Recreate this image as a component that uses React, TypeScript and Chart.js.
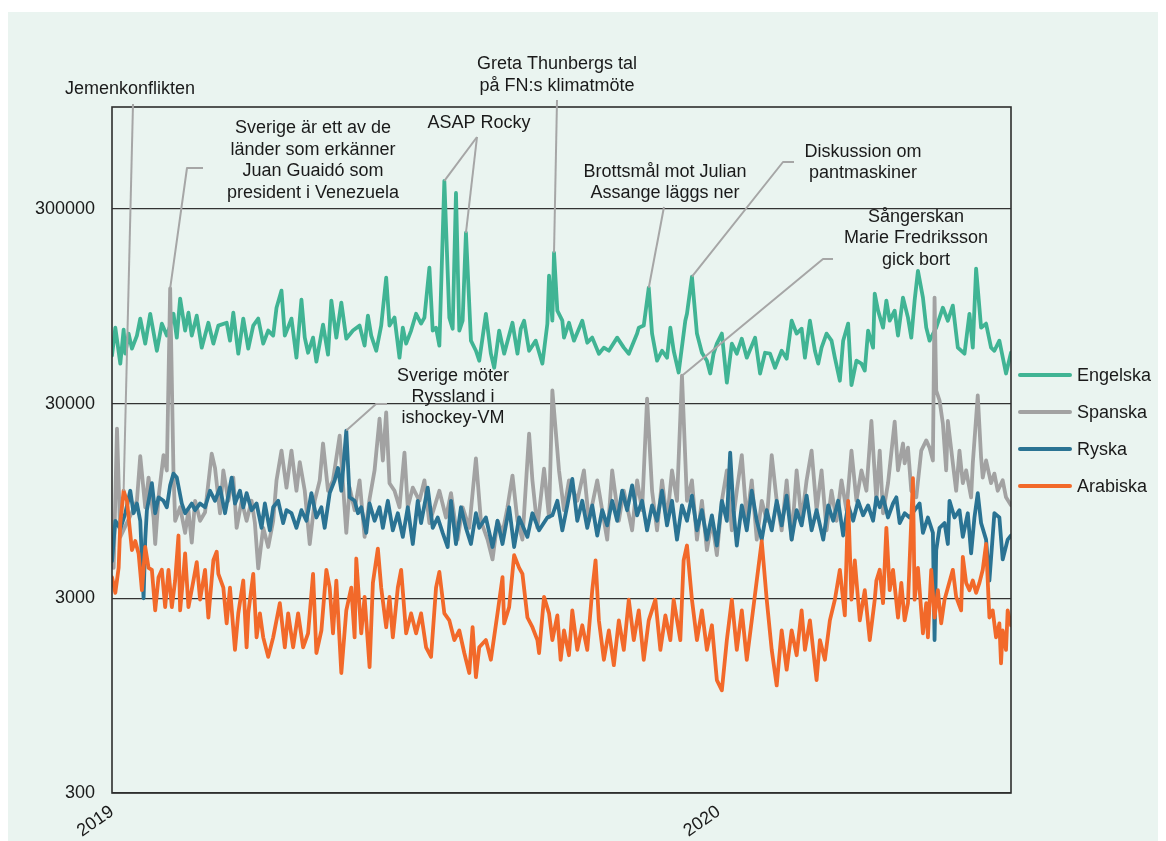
import React, { useEffect, useRef } from "react";
import { Chart, registerables } from "chart.js";

Chart.register(...registerables);

const FONT = "'Liberation Sans', Arial, Helvetica, sans-serif";
const TEXT = "#1a1a1a";

// x axis: days since 2019-01-01
const yearTicks = [0, 365];
const yearLabels = ["2019", "2020"];
const yTickValues = [300, 3000, 30000, 300000];
const seriesNames = ["Engelska", "Spanska", "Ryska", "Arabiska"];
const seriesColors = ["#40B494", "#A2A2A2", "#2A7393", "#F2692A"];

// [day, daily page views]
const engelska: [number, number][] = [
  [0, 52900], [2, 73600], [5, 48100], [7, 71900], [8, 54100], [10, 68600], [12, 57400], [15, 67000], [17, 81900], [20, 60900],
  [23, 86700], [27, 56000], [30, 77200], [33, 67000], [35, 75400], [37, 86700], [39, 65400], [41, 103800], [44, 71100], [46, 87800],
  [48, 67000], [51, 84800], [54, 58100], [58, 78000], [61, 60900], [64, 75400], [69, 78000], [71, 63100], [73, 87800], [76, 54100],
  [79, 81900], [82, 57400], [85, 75400], [88, 81900], [91, 60900], [94, 71100], [97, 67000], [99, 93200], [102, 114000], [104, 67000],
  [108, 81900], [111, 51600], [114, 102500], [116, 65400], [118, 54700], [121, 65400], [123, 49200], [127, 76300], [130, 53500], [132, 101400],
  [135, 65400], [138, 99000], [141, 64600], [145, 71100], [149, 75400], [152, 59500], [154, 84800], [156, 67000], [159, 56000], [162, 75400],
  [165, 132900], [167, 75400], [170, 82900], [173, 51600], [175, 73600], [177, 60900], [180, 71100], [183, 86700], [186, 77200], [188, 82900],
  [191, 149500], [193, 71100], [195, 73600], [197, 59500], [200, 417600], [203, 82900], [205, 72700], [207, 362000], [209, 71100], [211, 79900],
  [213, 226000], [216, 63100], [219, 56000], [221, 49800], [223, 65400], [225, 86700], [228, 54100], [230, 45800], [233, 71100], [236, 54100],
  [241, 78000], [244, 54100], [246, 72700], [248, 79900], [251, 56000], [255, 63100], [259, 48100], [262, 77200], [263, 136000], [265, 79900],
  [266, 178500], [268, 90000], [271, 79900], [272, 65400], [275, 78000], [278, 63100], [283, 79900], [286, 61600], [289, 65400], [293, 54100],
  [296, 58100], [299, 56000], [304, 65400], [308, 58100], [311, 54100], [316, 68600], [317, 73600], [320, 75400], [323, 118000], [325, 68600],
  [328, 49800], [331, 56000], [334, 51600], [336, 73600], [338, 56000], [341, 43300], [345, 79900], [346, 86700], [349, 134400], [352, 68600],
  [355, 54700], [358, 49800], [360, 42800], [362, 54100], [364, 60900], [367, 68600], [370, 38400], [373, 60900], [376, 54100], [379, 64600],
  [382, 51600], [387, 65400], [390, 42800], [393, 54700], [396, 54100], [399, 45800], [403, 56000], [406, 51000], [409, 79900], [412, 68600],
  [415, 72700], [417, 51600], [420, 79900], [423, 56000], [425, 48100], [427, 58100], [430, 68600], [433, 63100], [435, 51600], [438, 39300],
  [440, 63100], [443, 77200], [445, 37300], [448, 49800], [451, 48100], [453, 44300], [455, 71100], [458, 58100], [459, 110000], [461, 90000],
  [464, 73600], [466, 101400], [468, 79900], [471, 90000], [473, 67000], [476, 105000], [479, 82900], [481, 65400], [483, 101400], [485, 144000],
  [488, 105000], [490, 73600], [492, 63100], [496, 73600], [500, 93200], [503, 79900], [506, 95500], [509, 58100], [513, 54100], [516, 86700],
  [518, 58100], [520, 148000], [523, 73600], [526, 77200], [529, 58100], [531, 56000], [534, 63100], [538, 42800], [541, 54700],
];

const spanska: [number, number][] = [
  [1, 4300], [3, 22300], [5, 6200], [12, 8300], [15, 9500], [17, 16100], [20, 8800], [22, 12500], [25, 7800], [26, 5700],
  [28, 9900], [31, 16300], [33, 13600], [35, 117000], [37, 13300], [38, 7500], [41, 8800], [44, 6500], [46, 8500], [48, 5800],
  [50, 9500], [53, 7500], [56, 8300], [60, 16600], [62, 14000], [65, 8200], [67, 13600], [70, 9500], [73, 12500], [75, 6900],
  [78, 9500], [81, 7500], [84, 9500], [86, 7300], [88, 4270], [91, 6900], [94, 5500], [97, 7500], [99, 12100], [102, 17200],
  [105, 11100], [108, 17200], [111, 10700], [113, 15000], [116, 10700], [119, 5700], [122, 9500], [125, 12100], [127, 18700], [130, 10700],
  [133, 12100], [137, 20500], [141, 6500], [143, 11100], [146, 8500], [149, 12100], [152, 6200], [155, 9700], [158, 13600], [161, 25100],
  [163, 15300], [165, 27000], [167, 11700], [170, 10700], [173, 8800], [176, 16800], [178, 8800], [181, 11100], [185, 9500], [188, 12100],
  [191, 7300], [194, 8800], [197, 10700], [201, 7800], [204, 10400], [208, 6000], [211, 8800], [215, 6900], [219, 15700], [222, 7500],
  [226, 6000], [229, 4750], [232, 7500], [235, 6500], [238, 8800], [241, 12800], [244, 7500], [247, 6000], [251, 21000], [253, 12100],
  [256, 6900], [260, 13900], [263, 7800], [265, 35000], [269, 13600], [272, 8500], [275, 12100], [280, 9500], [284, 13600], [287, 7500],
  [292, 12100], [295, 8500], [298, 6000], [301, 13600], [305, 7500], [308, 10700], [313, 6700], [316, 12100], [319, 8500], [322, 31800],
  [325, 10700], [328, 6700], [331, 12100], [334, 7500], [337, 13600], [340, 9500], [343, 41700], [346, 9500], [349, 12100], [352, 6000],
  [355, 9500], [358, 5300], [361, 7500], [364, 5000], [367, 9500], [370, 13600], [373, 6700], [376, 10700], [379, 16300], [382, 7500],
  [385, 12100], [388, 6000], [391, 9500], [394, 7500], [397, 16300], [400, 9500], [403, 6700], [406, 12100], [409, 6000], [412, 13600],
  [415, 7500], [418, 12100], [421, 17200], [424, 8500], [427, 13600], [430, 6700], [433, 10700], [436, 7500], [439, 12100], [442, 8500],
  [445, 17200], [448, 9500], [451, 13600], [454, 10700], [457, 24400], [460, 9500], [462, 17200], [464, 8200], [467, 11700], [471, 24200],
  [473, 13600], [476, 18700], [477, 14800], [479, 17800], [481, 10700], [484, 9900], [487, 17200], [490, 19400], [492, 17800], [494, 15300],
  [495, 105000], [496, 35000], [498, 31100], [500, 23700], [502, 13600], [503, 24400], [506, 14800], [508, 10700], [510, 17200], [512, 11700],
  [514, 13600], [517, 9900], [518, 14800], [521, 33000], [523, 15900], [524, 12500], [526, 15300], [529, 11700], [531, 13100], [533, 10700],
  [536, 12100], [538, 9900], [541, 9000],
];

const ryska: [number, number][] = [
  [0, 4650], [2, 7500], [5, 6800], [8, 8200], [11, 10700], [13, 8200], [15, 9200], [17, 7500], [19, 3000], [20, 6000],
  [21, 8500], [24, 11700], [26, 8200], [28, 9900], [31, 9500], [33, 8800], [35, 11400], [37, 13100], [39, 12500], [42, 9200],
  [44, 8200], [48, 9200], [50, 8500], [53, 9200], [56, 8800], [59, 10700], [62, 9500], [65, 11100], [68, 8200], [72, 12500],
  [74, 9200], [77, 10700], [79, 8800], [81, 10400], [84, 8500], [87, 9200], [90, 6900], [92, 9200], [95, 6700], [97, 8800],
  [100, 9500], [103, 7300], [105, 8500], [108, 8200], [111, 6900], [114, 8500], [117, 7500], [120, 10400], [123, 7800], [126, 8800],
  [128, 6900], [131, 10400], [134, 12100], [136, 14000], [138, 10700], [141, 21800], [143, 9900], [146, 9500], [148, 8200], [150, 8800],
  [153, 6500], [155, 9200], [158, 7500], [161, 8800], [163, 6900], [166, 9500], [169, 6700], [172, 8200], [175, 6200], [178, 8800],
  [181, 5700], [184, 9500], [186, 7300], [190, 11100], [193, 6900], [196, 7800], [199, 6500], [202, 5500], [204, 9500], [207, 5700],
  [210, 8800], [213, 6900], [216, 5700], [219, 8200], [221, 6900], [225, 7800], [229, 5500], [232, 7500], [235, 5700], [239, 8800],
  [242, 5500], [245, 7800], [250, 6200], [253, 8200], [257, 6700], [262, 7800], [265, 8000], [268, 9500], [271, 6700], [274, 9000],
  [277, 12300], [280, 7500], [283, 9500], [286, 6900], [289, 9000], [292, 6300], [295, 8500], [298, 7100], [301, 9500], [304, 7500],
  [307, 10700], [310, 8500], [313, 11400], [316, 8000], [319, 9500], [322, 6700], [325, 9000], [328, 7500], [331, 10700], [334, 7100],
  [337, 9500], [340, 6000], [343, 9000], [346, 7500], [349, 10100], [352, 6700], [355, 8500], [358, 6000], [361, 8000], [364, 5600],
  [367, 9500], [370, 7500], [372, 16800], [374, 8500], [376, 5600], [379, 9000], [382, 6700], [385, 10700], [388, 7500], [391, 6000],
  [394, 8500], [397, 6700], [400, 9500], [403, 7100], [406, 10100], [409, 6000], [412, 8500], [415, 7100], [418, 10100], [421, 6700],
  [424, 8500], [428, 6000], [431, 9000], [434, 7500], [437, 9500], [440, 6300], [443, 9000], [446, 7500], [449, 9500], [452, 8000],
  [455, 9000], [458, 7500], [460, 9900], [462, 8800], [464, 9900], [467, 7800], [470, 9200], [472, 9900], [474, 7300], [477, 8200],
  [480, 7800], [483, 8500], [486, 9200], [488, 6500], [491, 7800], [494, 6500], [495, 1830], [496, 5300], [498, 6900], [501, 7300],
  [503, 5700], [504, 9500], [507, 7800], [510, 8500], [512, 6200], [515, 8200], [517, 5100], [519, 7800], [521, 10400], [523, 7300],
  [526, 6000], [528, 3700], [531, 8200], [534, 7800], [536, 4750], [539, 6000], [541, 6300],
];

const arabiska: [number, number][] = [
  [0, 3850], [2, 3200], [4, 4300], [5, 7300], [7, 10700], [9, 9500], [10, 7800], [12, 5300], [14, 5900], [16, 5100],
  [18, 3300], [20, 5500], [22, 4300], [24, 4200], [26, 2600], [28, 3850], [30, 4200], [32, 2700], [34, 4200], [36, 2700],
  [38, 3700], [40, 6300], [41, 2600], [43, 4000], [44, 5100], [46, 2700], [49, 3700], [51, 4600], [53, 2950], [56, 4200],
  [58, 2390], [61, 4700], [63, 5200], [64, 4000], [67, 3400], [69, 2230], [71, 3400], [74, 1630], [76, 2510], [79, 3700],
  [81, 1680], [82, 2510], [85, 4000], [87, 1890], [89, 2510], [91, 1890], [94, 1500], [97, 1890], [101, 2830], [104, 1680],
  [106, 2510], [109, 1680], [112, 2510], [115, 1680], [118, 1980], [121, 4000], [123, 1570], [126, 2050], [129, 4200], [131, 3400],
  [133, 1980], [135, 3700], [138, 1240], [141, 2600], [144, 3400], [146, 1890], [147, 4800], [150, 1980], [152, 3050], [155, 1330],
  [157, 3600], [160, 5400], [162, 3400], [165, 2130], [167, 3050], [169, 1890], [172, 3400], [174, 4200], [177, 1980], [180, 2510],
  [183, 1980], [186, 2510], [189, 1680], [192, 1500], [195, 3400], [197, 4100], [200, 2510], [203, 2310], [206, 1830], [209, 2050],
  [212, 1570], [215, 1240], [217, 2130], [219, 1180], [221, 1680], [225, 1830], [228, 1450], [232, 2510], [235, 3850], [236, 2230],
  [239, 2700], [242, 5000], [245, 4300], [247, 4000], [250, 2390], [253, 2130], [256, 1830], [257, 1570], [260, 3050], [263, 2510],
  [265, 1830], [268, 2450], [270, 1450], [272, 2050], [275, 1530], [277, 2600], [280, 1630], [283, 2180], [286, 1630], [289, 3300],
  [291, 4700], [293, 2310], [296, 1450], [299, 2050], [302, 1360], [305, 2310], [308, 1630], [311, 2950], [314, 1830], [317, 2600],
  [320, 1450], [323, 2310], [327, 2950], [330, 1630], [333, 2450], [336, 1830], [338, 2950], [342, 1830], [344, 4700], [346, 5600],
  [349, 2950], [352, 1830], [355, 2600], [358, 1630], [361, 2180], [364, 1140], [367, 1010], [370, 1830], [373, 2950], [376, 1630],
  [379, 2600], [382, 1450], [385, 2310], [388, 3700], [391, 5900], [394, 2950], [397, 1630], [400, 1070], [403, 2050], [406, 1290],
  [409, 2050], [412, 1530], [415, 2600], [417, 1630], [420, 2310], [424, 1140], [426, 1830], [429, 1450], [432, 2310], [435, 2950],
  [438, 4200], [441, 2450], [443, 9500], [445, 2950], [447, 4700], [450, 2310], [453, 3300], [456, 1830], [459, 2950], [460, 3700],
  [462, 4200], [464, 2830], [466, 6900], [468, 3300], [470, 4200], [473, 2390], [475, 3600], [477, 2310], [479, 2830], [482, 12400],
  [483, 2950], [485, 4300], [488, 1980], [490, 2830], [491, 1890], [493, 4200], [495, 2390], [497, 3300], [499, 2230], [501, 2950],
  [503, 3400], [506, 4200], [508, 3050], [511, 2600], [512, 4900], [514, 3600], [516, 3300], [518, 3700], [520, 3200], [522, 3600],
  [524, 4200], [526, 5700], [528, 2390], [530, 2600], [532, 1890], [534, 2230], [535, 1390], [536, 2050], [538, 1630], [539, 2600],
  [541, 2180],
];

const allSeries = [engelska, spanska, ryska, arabiska];

type Leader = { path: [number, number][]; series: number; day: number };
type Note = { lines: string[]; cx: number; cy: number; lh: number; leaders: Leader[] };

// annotation text blocks; leader lines end at the referenced data point
const notes: Note[] = [
  { lines: ["Jemenkonflikten"], cx: 122, cy: 77, lh: 22, leaders: [{ path: [[125, 92]], series: 3, day: 7 }] },
  {
    lines: ["Sverige är ett av de", "länder som erkänner", "Juan Guaidó som", "president i Venezuela"],
    cx: 305, cy: 116, lh: 21.7,
    leaders: [{ path: [[195, 156], [179, 156]], series: 1, day: 35 }],
  },
  {
    lines: ["ASAP Rocky"], cx: 471, cy: 111, lh: 22,
    leaders: [
      { path: [[469, 125]], series: 0, day: 200 },
      { path: [[469, 125]], series: 0, day: 213 },
    ],
  },
  { lines: ["Greta Thunbergs tal", "på FN:s klimatmöte"], cx: 549, cy: 52, lh: 22, leaders: [{ path: [[549, 88]], series: 0, day: 266 }] },
  { lines: ["Brottsmål mot Julian", "Assange läggs ner"], cx: 657, cy: 160, lh: 21.5, leaders: [{ path: [[656, 195]], series: 0, day: 323 }] },
  { lines: ["Diskussion om", "pantmaskiner"], cx: 855, cy: 140, lh: 21, leaders: [{ path: [[786, 150], [775, 150]], series: 0, day: 349 }] },
  {
    lines: ["Sångerskan", "Marie Fredriksson", "gick bort"], cx: 908, cy: 205, lh: 21.5,
    leaders: [{ path: [[825, 247], [815, 247]], series: 1, day: 343 }],
  },
  {
    lines: ["Sverige möter", "Ryssland i", "ishockey-VM"], cx: 445, cy: 364, lh: 21,
    leaders: [{ path: [[379, 392], [368, 392]], series: 2, day: 141 }],
  },
];

export default function App() {
  const ref = useRef<HTMLCanvasElement>(null);

  useEffect(() => {
    const canvas = ref.current;
    if (!canvas) return;

    const overlay = {
      id: "overlay",
      afterDatasetsDraw(chart: any) {
        const { ctx, chartArea: a, scales } = chart;
        const xs = scales.x;
        const ys = scales.y;
        ctx.save();
        // plot frame
        ctx.strokeStyle = "#2e2e2e";
        ctx.lineWidth = 1.6;
        ctx.strokeRect(a.left, a.top, a.right - a.left, a.bottom - a.top);

        // leader lines
        ctx.strokeStyle = "#A6A6A6";
        ctx.lineWidth = 2;
        ctx.lineJoin = "round";
        notes.forEach((n) =>
          n.leaders.forEach((l) => {
            const pt = allSeries[l.series].find((p) => p[0] === l.day);
            if (!pt) return;
            ctx.beginPath();
            ctx.moveTo(l.path[0][0], l.path[0][1]);
            for (let i = 1; i < l.path.length; i++) ctx.lineTo(l.path[i][0], l.path[i][1]);
            ctx.lineTo(xs.getPixelForValue(pt[0]), ys.getPixelForValue(pt[1]));
            ctx.stroke();
          })
        );

        // annotation texts
        ctx.fillStyle = TEXT;
        ctx.font = `18px ${FONT}`;
        ctx.textAlign = "center";
        ctx.textBaseline = "middle";
        notes.forEach((n) => n.lines.forEach((t, i) => ctx.fillText(t, n.cx, n.cy + i * n.lh)));

        // legend
        ctx.textAlign = "left";
        ctx.lineCap = "round";
        ctx.lineWidth = 4;
        seriesNames.forEach((name, i) => {
          const y = 363 + i * 37;
          ctx.strokeStyle = seriesColors[i];
          ctx.beginPath();
          ctx.moveTo(1012, y);
          ctx.lineTo(1062, y);
          ctx.stroke();
          ctx.fillText(name, 1069, y + 1);
        });
        ctx.restore();
      },
    };

    const chart = new Chart(canvas, {
      type: "line",
      data: {
        datasets: allSeries.map((s, i) => ({
          label: seriesNames[i],
          data: s.map((p) => ({ x: p[0], y: p[1] })),
          borderColor: seriesColors[i],
          backgroundColor: seriesColors[i],
          borderWidth: 3.8,
          pointRadius: 0,
          tension: 0,
          borderJoinStyle: "round" as const,
          borderCapStyle: "round" as const,
          order: 3 - i,
        })),
      },
      options: {
        responsive: false,
        animation: false,
        devicePixelRatio: 1,
        layout: { padding: { top: 95, right: 155, left: 0, bottom: 0 } },
        plugins: { legend: { display: false }, tooltip: { enabled: false } },
        scales: {
          x: {
            type: "linear",
            min: 0,
            max: 541,
            afterBuildTicks: (s: any) => {
              s.ticks = yearTicks.map((v) => ({ value: v }));
            },
            afterFit: (s: any) => {
              s.height = 48;
            },
            grid: { display: false },
            border: { display: false },
            ticks: {
              autoSkip: false,
              minRotation: 35,
              maxRotation: 35,
              padding: 0,
              color: TEXT,
              font: { family: FONT, size: 18 },
              callback: (v: any) => {
                const k = yearTicks.indexOf(Number(v));
                return k >= 0 ? yearLabels[k] : "";
              },
            },
          },
          y: {
            type: "logarithmic",
            min: 300,
            max: 1000000,
            afterBuildTicks: (s: any) => {
              s.ticks = yTickValues.map((v) => ({ value: v }));
            },
            afterFit: (s: any) => {
              s.width = 104;
            },
            grid: { color: "#333333", lineWidth: 1.2, drawTicks: false },
            border: { display: false },
            ticks: {
              padding: 17,
              color: TEXT,
              font: { family: FONT, size: 18 },
              callback: (v: any) => String(v),
            },
          },
        },
      },
      plugins: [overlay],
    } as any);

    return () => chart.destroy();
  }, []);

  return (
    <div style={{ marginTop: 4, width: 1158, height: 829, background: "#EAF4F0" }}>
      <canvas ref={ref} width={1158} height={829} style={{ display: "block" }} />
    </div>
  );
}
